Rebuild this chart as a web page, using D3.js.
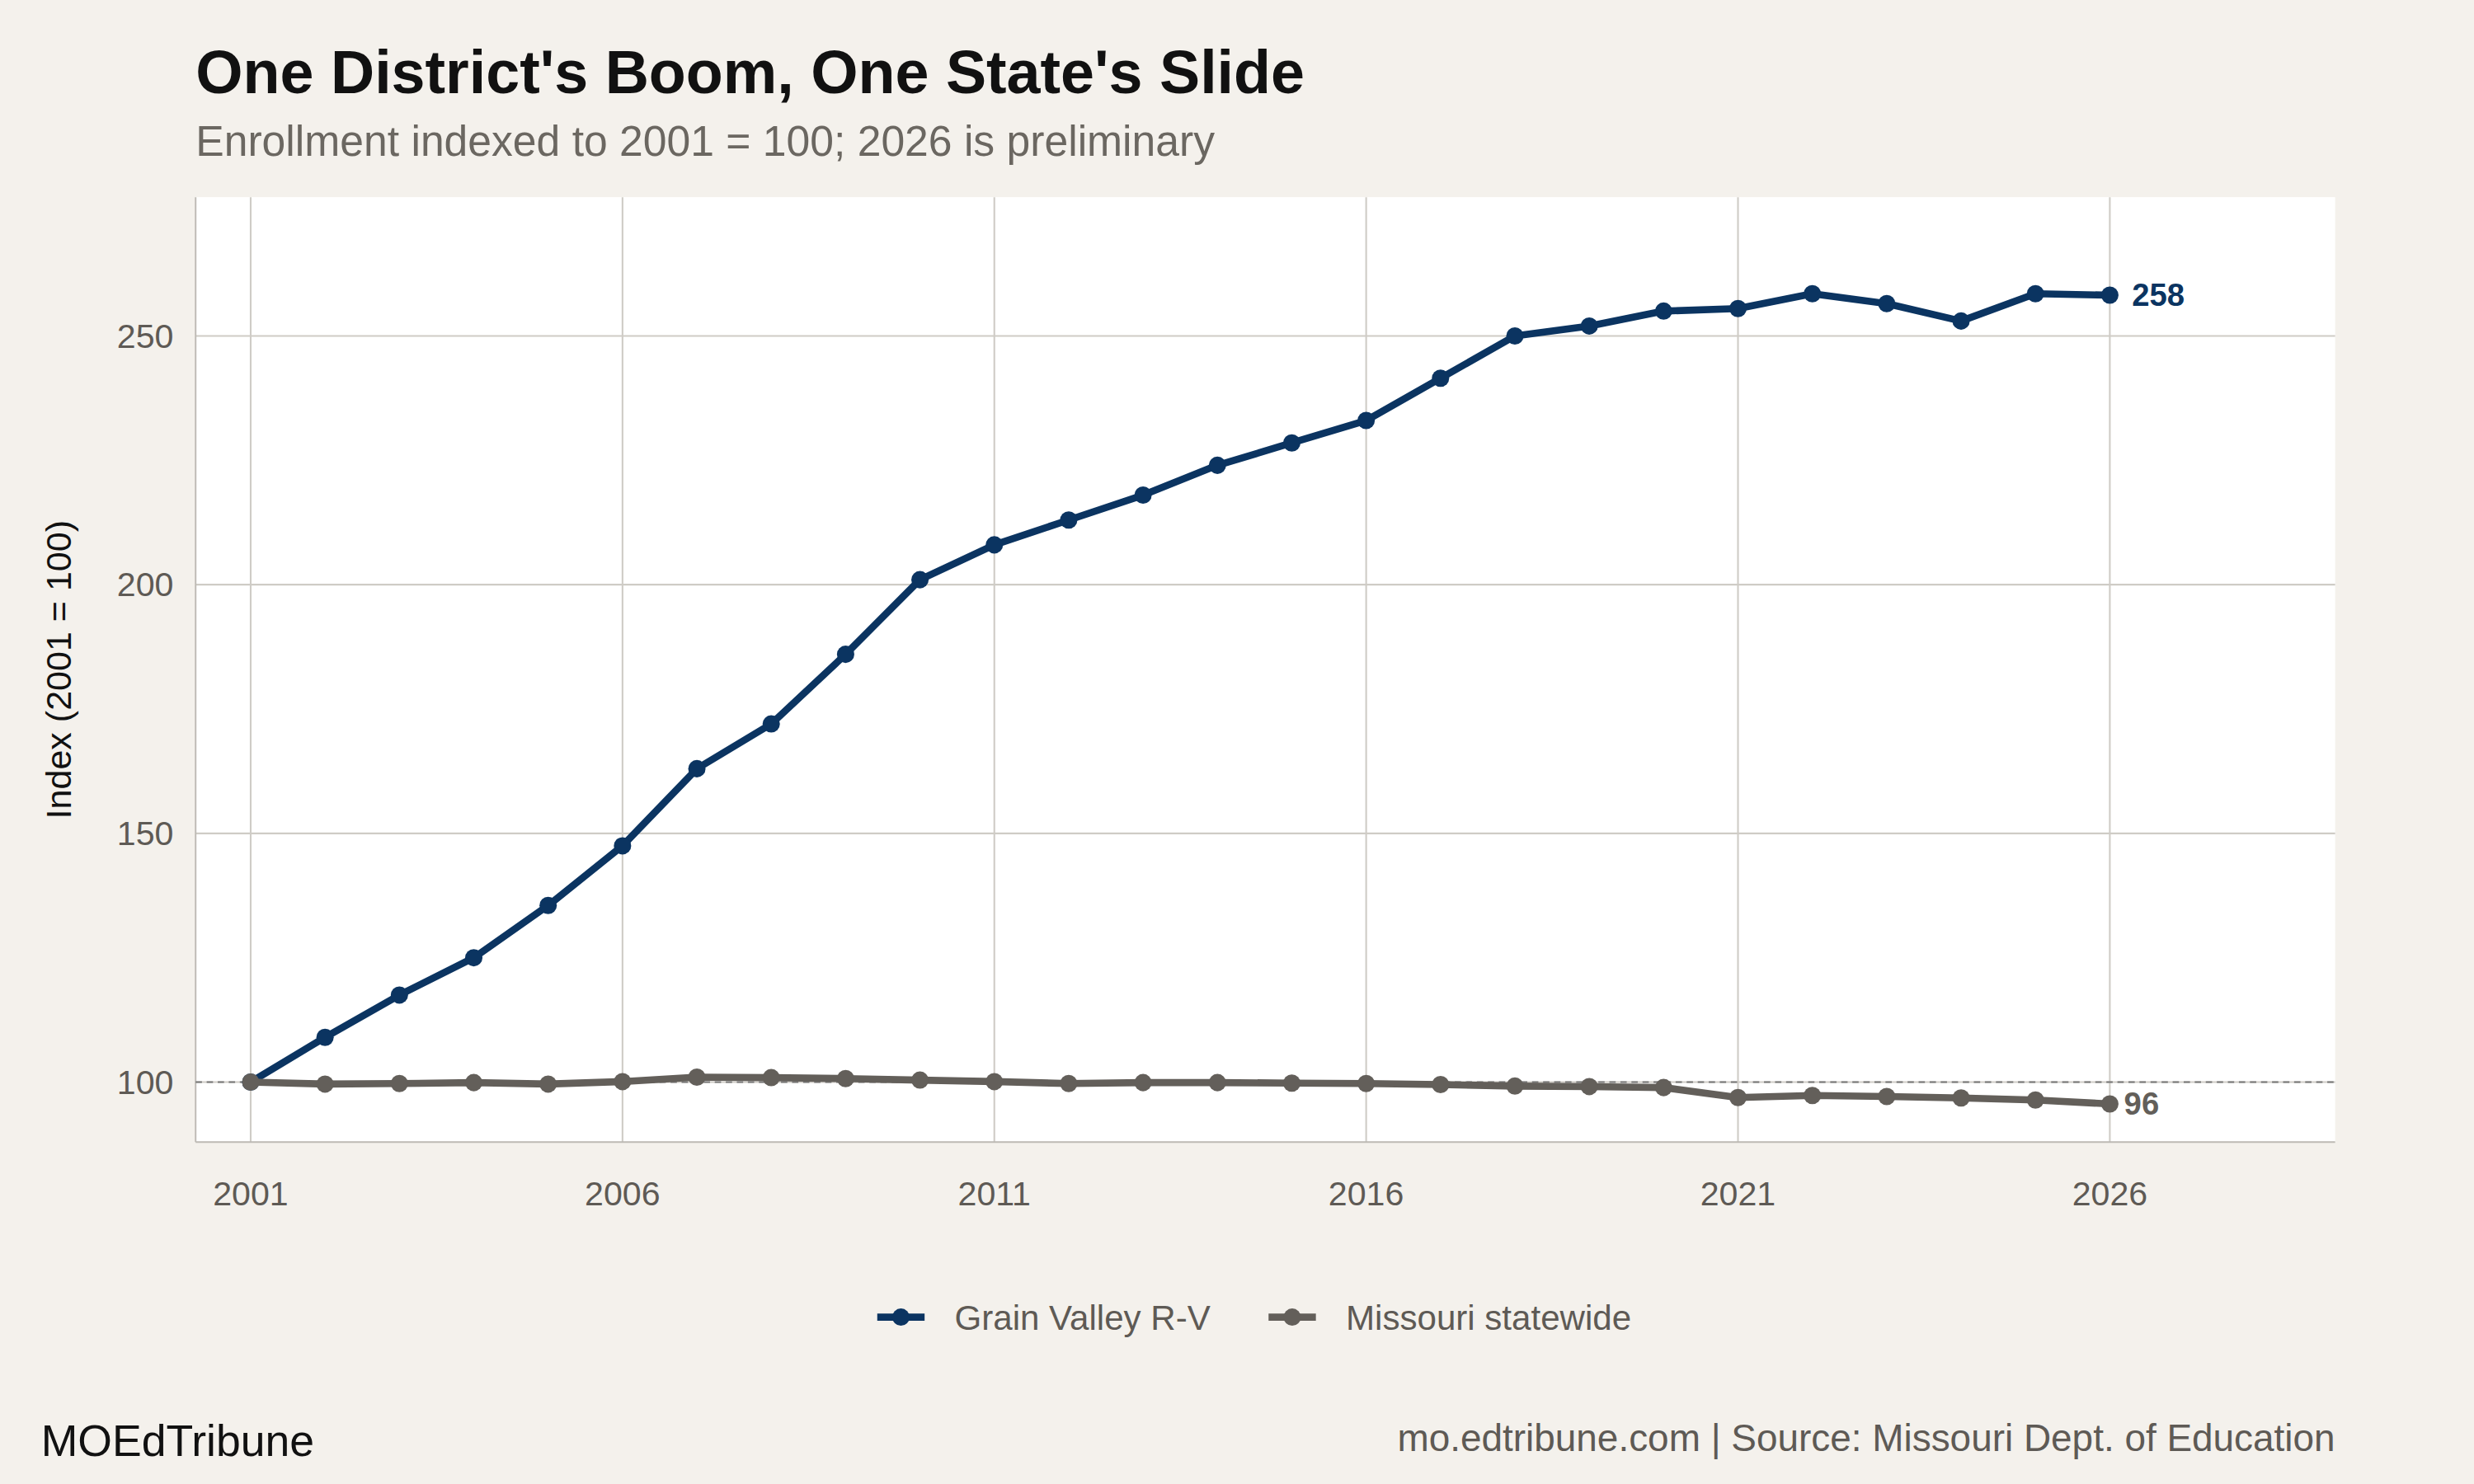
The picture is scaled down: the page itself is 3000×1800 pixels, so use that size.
<!DOCTYPE html>
<html><head><meta charset="utf-8">
<script src="https://cdn.jsdelivr.net/npm/d3@7"></script>
<style>body{margin:0;background:#f4f1ec}svg{display:block}</style>
</head><body>
<script>
const years = d3.range(2001, 2027);
const grainValley = [100,109,117.5,125,135.5,147.5,163,172,186,201,208,213,218,224,228.5,233,241.5,250,252,255,255.5,258.5,256.5,253,258.5,258.2];
const missouri = [100,99.6,99.7,99.9,99.6,100.1,101,100.9,100.7,100.4,100.1,99.7,99.9,99.9,99.8,99.7,99.5,99.2,99.1,98.9,96.9,97.3,97.1,96.8,96.4,95.6];
const xTicks = [2001,2006,2011,2016,2021,2026];
const yTicks = [100,150,200,250];
const seriesNames = ["Grain Valley R-V","Missouri statewide"];
const colors = ["#0b3461","#635f5a"];

const W=1568,H=940.8;
const svg=d3.select("body").append("svg").attr("width",3000).attr("height",1800).attr("viewBox",`0 0 ${W} ${H}`);
const font="Liberation Sans, Arial, sans-serif";
svg.append("rect").attr("width",W).attr("height",H).attr("fill","#f4f1ec");
const L=124,R=1480,T=125,B=724;
const x=d3.scaleLinear().domain([2000.26,2029.03]).range([L,R]);
const y=d3.scaleLinear().domain([87.95,277.9]).range([B,T]);
svg.append("rect").attr("x",L).attr("y",T).attr("width",R-L).attr("height",B-T).attr("fill","#fff");
const g=svg.append("g");
xTicks.forEach(t=>g.append("line").attr("x1",x(t)).attr("x2",x(t)).attr("y1",T).attr("y2",B).attr("stroke","#cfccc6").attr("stroke-width",1.1));
yTicks.forEach(t=>g.append("line").attr("x1",L).attr("x2",R).attr("y1",y(t)).attr("y2",y(t)).attr("stroke","#cfccc6").attr("stroke-width",1.1));
g.append("line").attr("x1",L).attr("x2",L).attr("y1",T).attr("y2",B).attr("stroke","#bdbab4");
g.append("line").attr("x1",L).attr("x2",R).attr("y1",B).attr("y2",B).attr("stroke","#bdbab4");
g.append("line").attr("x1",L).attr("x2",R).attr("y1",y(100)).attr("y2",y(100)).attr("stroke","#777").attr("stroke-dasharray","4,3").attr("stroke-width",1);
xTicks.forEach(t=>svg.append("text").attr("x",x(t)).attr("y",B+40).attr("text-anchor","middle").attr("font-family",font).attr("font-size",21.5).attr("fill","#5e5a55").text(t));
yTicks.forEach(t=>svg.append("text").attr("x",L-14).attr("y",y(t)+7.5).attr("text-anchor","end").attr("font-family",font).attr("font-size",21.5).attr("fill","#5e5a55").text(t));
svg.append("text").attr("transform",`translate(45,${(T+B)/2}) rotate(-90)`).attr("text-anchor","middle").attr("font-family",font).attr("font-size",22.5).attr("fill","#111").text("Index (2001 = 100)");
const line=d3.line().x((d,i)=>x(years[i])).y(d=>y(d));
[grainValley,missouri].forEach((s,k)=>{
  svg.append("path").attr("d",line(s)).attr("fill","none").attr("stroke",colors[k]).attr("stroke-width",4.5).attr("stroke-linejoin","round");
  s.forEach((v,i)=>svg.append("circle").attr("cx",x(years[i])).attr("cy",y(v)).attr("r",5.5).attr("fill",colors[k]));
  svg.append("text").attr("x",x(2026)+(k?9:14)).attr("y",y(s[s.length-1])+7).attr("font-family",font).attr("font-weight","bold").attr("font-size",20).attr("fill",colors[k]).text(Math.round(s[s.length-1]));
});
svg.append("text").attr("x",124).attr("y",59).attr("font-family",font).attr("font-weight","bold").attr("font-size",38.5).attr("fill","#111").text("One District's Boom, One State's Slide");
svg.append("text").attr("x",124).attr("y",99).attr("font-family",font).attr("font-size",27).attr("fill","#6b6761").text("Enrollment indexed to 2001 = 100; 2026 is preliminary");
const lx=[556,804];
seriesNames.forEach((n,k)=>{
  svg.append("line").attr("x1",lx[k]).attr("x2",lx[k]+30).attr("y1",835).attr("y2",835).attr("stroke",colors[k]).attr("stroke-width",4.5);
  svg.append("circle").attr("cx",lx[k]+15).attr("cy",835).attr("r",5.5).attr("fill",colors[k]);
  svg.append("text").attr("x",lx[k]+49).attr("y",843).attr("font-family",font).attr("font-size",22).attr("fill","#5e5a55").text(n);
});
svg.append("text").attr("x",26).attr("y",923).attr("font-family",font).attr("font-size",28).attr("fill","#111").text("MOEdTribune");
svg.append("text").attr("x",1480).attr("y",920).attr("text-anchor","end").attr("font-family",font).attr("font-size",24).attr("fill","#5e5a55").text("mo.edtribune.com | Source: Missouri Dept. of Education");
</script>
</body></html>
